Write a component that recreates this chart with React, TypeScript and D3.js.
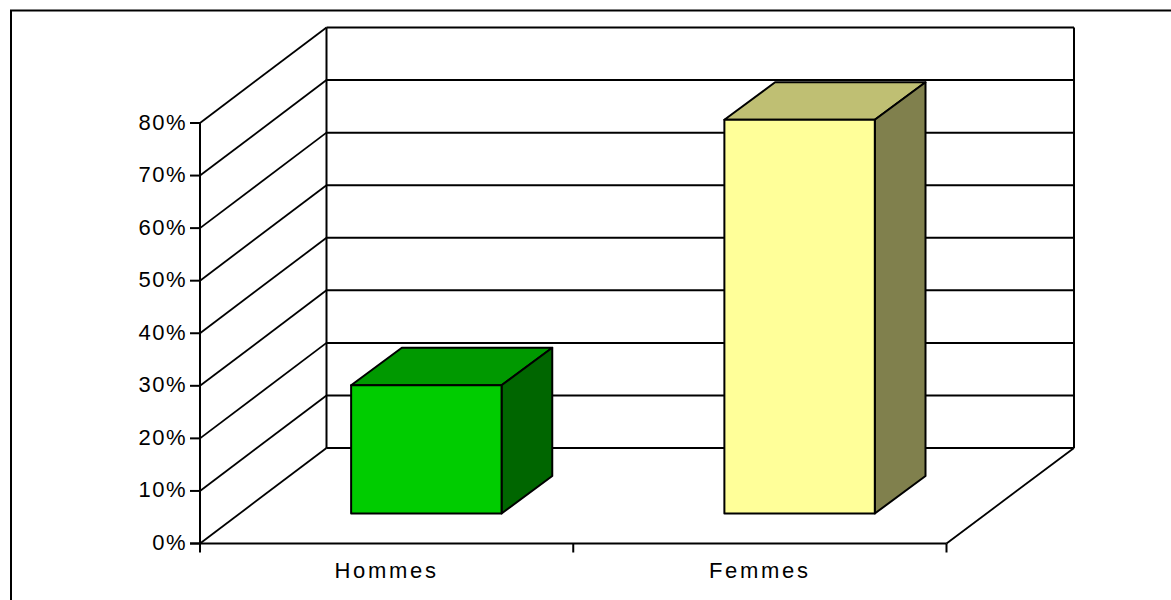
import React from "react";
import * as d3 from "d3";

const categories = ["Hommes", "Femmes"];
const values = [24.4, 74.9];
const yTicks = [0, 10, 20, 30, 40, 50, 60, 70, 80];
const yTickLabels = ["0%", "10%", "20%", "30%", "40%", "50%", "60%", "70%", "80%"];
const frontColors = ["#00CC00", "#FFFF99"];
const topColors = ["#009900", "#BFBF73"];
const sideColors = ["#006600", "#80804D"];

const W = 1171;
const H = 600;
const x0 = 200;
const x1 = 946.5;
const yBase = 543.5;
const yTop = 123;
const DX = 127.5;
const DY = -95.5;
const dFront = 0.314;
const dBack = 0.707;

export default function App() {
  const y = d3.scaleLinear().domain([0, 80]).range([yBase, yTop]);
  const x = d3.scaleBand<string>().domain(categories).range([x0, x1]).padding(0);
  const bw = x.bandwidth() * 0.403;
  const font = "'Liberation Sans', Arial, sans-serif";
  const stroke = "#000";
  const lw = 2;

  const pts = (arr: [number, number][]) => arr.map((p) => p.join(",")).join(" ");

  return (
    <svg
      width={W}
      height={H}
      style={{ position: "absolute", left: 0, top: 0, background: "#fff" }}
    >
      <rect x={0} y={0} width={W} height={H} fill="#fff" />
      <rect x={11} y={10.5} width={1300} height={800} fill="none" stroke="#000" strokeWidth={2} />

      {/* left wall diagonals */}
      {yTicks.map((t) => (
        <line
          key={"d" + t}
          x1={x0}
          y1={y(t)}
          x2={x0 + 126.5}
          y2={y(t) + DY}
          stroke={stroke}
          strokeWidth={1.8}
        />
      ))}
      {/* back wall gridlines */}
      {yTicks.map((t) => (
        <line
          key={"g" + t}
          x1={x0 + 126.5}
          y1={y(t) + DY}
          x2={x1 + DX}
          y2={y(t) + DY}
          stroke={stroke}
          strokeWidth={lw}
        />
      ))}
      <line x1={x0 + 126.5} y1={y(0) + DY} x2={x0 + 126.5} y2={y(80) + DY} stroke={stroke} strokeWidth={lw} />
      <line x1={x1 + DX} y1={y(0) + DY} x2={x1 + DX} y2={y(80) + DY} stroke={stroke} strokeWidth={lw} />
      {/* floor */}
      <line x1={x1} y1={yBase} x2={x1 + DX} y2={yBase + DY} stroke={stroke} strokeWidth={1.8} />

      {/* bars */}
      {categories.map((c, i) => {
        const bx = (x(c) as number) + (x.bandwidth() - bw) / 2 + dFront * 126.5;
        const by0 = yBase + dFront * DY;
        const h = yBase - y(values[i]);
        const byT = by0 - h;
        const ddx = (dBack - dFront) * 129;
        const ddy = (dBack - dFront) * DY;
        return (
          <g key={c} stroke={stroke} strokeWidth={2} strokeLinejoin="round">
            <polygon
              points={pts([
                [bx, byT],
                [bx + ddx, byT + ddy],
                [bx + bw + ddx, byT + ddy],
                [bx + bw, byT],
              ])}
              fill={topColors[i]}
            />
            <polygon
              points={pts([
                [bx + bw, byT],
                [bx + bw + ddx, byT + ddy],
                [bx + bw + ddx, by0 + ddy],
                [bx + bw, by0],
              ])}
              fill={sideColors[i]}
            />
            <rect x={bx} y={byT} width={bw} height={h} fill={frontColors[i]} />
          </g>
        );
      })}

      {/* front axes */}
      <line x1={x0} y1={yBase} x2={x0} y2={yTop} stroke={stroke} strokeWidth={lw} />
      <line x1={x0 - 10} y1={yBase} x2={x1} y2={yBase} stroke={stroke} strokeWidth={lw} />
      {yTicks.map((t, i) => (
        <g key={"t" + t}>
          <line x1={x0 - 10} y1={y(t)} x2={x0} y2={y(t)} stroke={stroke} strokeWidth={lw} />
          <text
            x={x0 - 13}
            y={y(t) - 1}
            textAnchor="end"
            dominantBaseline="central"
            fontFamily={font}
            fontSize={22}
            letterSpacing={1.5}
            fill="#000"
          >
            {yTickLabels[i]}
          </text>
        </g>
      ))}
      {[x0, ...categories.map((c) => (x(c) as number) + x.bandwidth())].map((xx, i) => (
        <line key={"xt" + i} x1={xx} y1={yBase} x2={xx} y2={yBase + 9} stroke={stroke} strokeWidth={lw} />
      ))}
      {categories.map((c) => (
        <text
          key={"l" + c}
          x={(x(c) as number) + x.bandwidth() / 2}
          y={578}
          textAnchor="middle"
          fontFamily={font}
          fontSize={22}
          letterSpacing={2.7}
          fill="#000"
        >
          {c}
        </text>
      ))}
    </svg>
  );
}
